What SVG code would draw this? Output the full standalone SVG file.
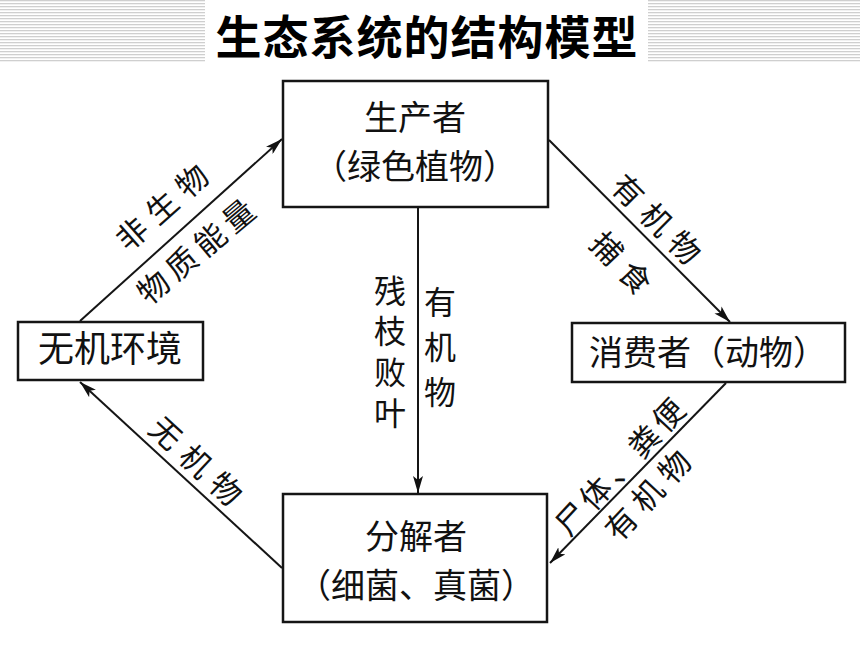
<svg xmlns="http://www.w3.org/2000/svg" width="860" height="645" viewBox="0 0 860 645">
<defs>
<pattern id="stripes" width="4" height="3" patternUnits="userSpaceOnUse">
<rect x="0" y="0" width="4" height="1.3" fill="#cfcfcf"/>
</pattern>
<marker id="arr" markerUnits="userSpaceOnUse" markerWidth="18" markerHeight="10" refX="17" refY="5" orient="auto">
<path d="M0,0 L17,5 L0,10 L4,5 z" fill="#111"/>
</marker>
<style>
.box{fill:#fff;stroke:#151515;stroke-width:2.5}
.lbl{font-family:"Noto Sans CJK SC","Noto Sans CJK JP",sans-serif;fill:#111}
.node{font-size:34px;text-anchor:middle}
.edge{font-size:31px;text-anchor:middle;dominant-baseline:central}
.vert{font-size:32px;text-anchor:middle;writing-mode:vertical-rl}
.conn{stroke:#151515;stroke-width:2;fill:none;marker-end:url(#arr)}
.title{font-family:"Noto Sans CJK SC","Noto Sans CJK JP",sans-serif;font-size:46px;font-weight:bold;fill:#000;text-anchor:middle}
</style>
</defs>
<rect width="860" height="645" fill="#fff"/>
<rect x="0" y="0" width="860" height="62" fill="url(#stripes)"/>
<rect x="205" y="0" width="443" height="62" fill="#fff"/>
<text class="title" x="427" y="54" letter-spacing="1">生态系统的结构模型</text>

<g id="connectors">
<line class="conn" x1="80" y1="321" x2="282" y2="139"/>
<line class="conn" x1="549" y1="140" x2="730" y2="322"/>
<line class="conn" x1="726" y1="383" x2="550" y2="563"/>
<line class="conn" x1="282" y1="568" x2="80" y2="382"/>
<line class="conn" x1="418" y1="208" x2="418" y2="493"/>
<text class="lbl edge" x="164" y="203" letter-spacing="9" transform="rotate(-41.5 164 203)">非生物</text>
<text class="lbl edge" x="197" y="248" letter-spacing="6" transform="rotate(-40 197 248)">物质能量</text>
<text class="lbl edge" x="661" y="221" letter-spacing="9" transform="rotate(45 661 221)">有机物</text>
<text class="lbl edge" x="626" y="265" letter-spacing="10" transform="rotate(46 626 265)">捕食</text>
<text class="lbl edge" x="620" y="464" letter-spacing="4.5" transform="rotate(-47 620 464)">尸体、粪便</text>
<text class="lbl edge" x="649" y="491" letter-spacing="8" transform="rotate(-47 649 491)">有机物</text>
<text class="lbl edge" x="201" y="463" letter-spacing="10" transform="rotate(43 201 463)">无机物</text>
<text class="lbl vert" x="390" y="356" letter-spacing="8.7">残枝败叶</text>
<text class="lbl vert" x="440" y="353" letter-spacing="13">有机物</text>
</g>

<g id="producer">
<rect class="box" x="283" y="81" width="265" height="126"/>
<text class="lbl node" x="415" y="130">生产者</text>
<text class="lbl node" x="415" y="179">（绿色植物）</text>
</g>
<g id="environment">
<rect class="box" x="18" y="322" width="185" height="58"/>
<text class="lbl node" x="110" y="362" style="font-size:36px">无机环境</text>
</g>
<g id="consumer">
<rect class="box" x="572" y="323" width="273" height="59"/>
<text class="lbl node" x="708" y="365">消费者（动物）</text>
</g>
<g id="decomposer">
<rect class="box" x="283" y="494" width="264" height="128"/>
<text class="lbl node" x="416" y="549">分解者</text>
<text class="lbl node" x="416" y="598">（细菌、真菌）</text>
</g>
</svg>
